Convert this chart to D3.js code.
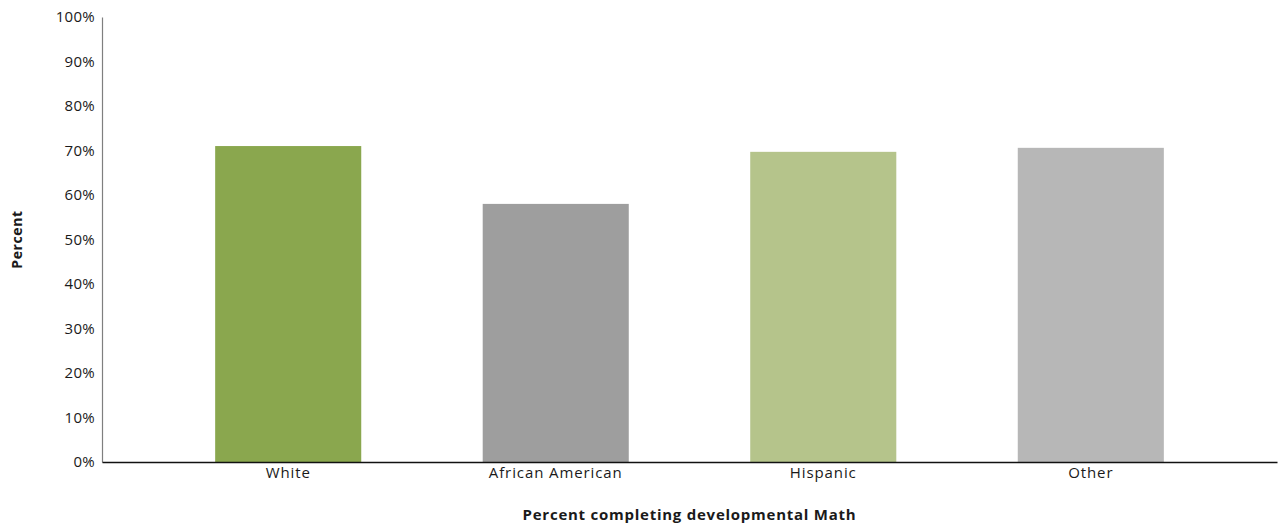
<!DOCTYPE html>
<html>
<head>
<meta charset="utf-8">
<script src="https://cdn.jsdelivr.net/npm/d3@7"></script>
<style>
  body { margin: 0; background: #fff; }
  text { font-family: "Open Sans", "Noto Sans", sans-serif; fill: #1a1a1a; }
</style>
</head>
<body>
<main></main>
<script>
const categories = ["White", "African American", "Hispanic", "Other"];
const values = [71.0, 58.0, 69.7, 70.6];
const colors = ["#8aa74e", "#9e9e9e", "#b5c48b", "#b7b7b7"];
const yTicks = [0, 10, 20, 30, 40, 50, 60, 70, 80, 90, 100];

const w = 1279;
const h = 526;
const plotLeft = 102;
const plotRight = 1277;
const plotTop = 17;
const plotBottom = 462;

const svg = d3
  .select("main")
  .append("svg")
  .attr("width", w)
  .attr("height", h);

const x = d3
  .scaleBand()
  .domain(categories)
  .range([plotLeft, plotRight])
  .paddingInner(0.454)
  .paddingOuter(0.423);

const y = d3.scaleLinear().domain([0, 100]).range([plotBottom, plotTop]);

svg
  .append("g")
  .selectAll("rect")
  .data(categories)
  .join("rect")
  .attr("x", (d) => x(d))
  .attr("y", (d, i) => y(values[i]))
  .attr("width", x.bandwidth())
  .attr("height", (d, i) => plotBottom - y(values[i]))
  .attr("fill", (d, i) => colors[i]);

// y axis
const yAxis = svg
  .append("g")
  .attr("transform", `translate(${plotLeft}, 0)`)
  .call(
    d3
      .axisLeft(y)
      .tickValues(yTicks)
      .tickSize(0)
      .tickPadding(7)
      .tickFormat((d) => d + "%")
  );
yAxis.select(".domain").attr("stroke", "#7f7f7f").attr("stroke-width", 1.2);
yAxis
  .selectAll("text")
  .attr("font-size", 15)
  .attr("letter-spacing", "0.3px")
  .attr("fill", "#1a1a1a");

// x axis
const xAxis = svg
  .append("g")
  .attr("transform", `translate(0, ${plotBottom})`)
  .call(d3.axisBottom(x).tickSize(0).tickPadding(5).tickSizeOuter(0));
xAxis.select(".domain").attr("stroke", "#111").attr("stroke-width", 1.5);
xAxis
  .selectAll("text")
  .attr("font-size", 15)
  .attr("letter-spacing", "0.9px")
  .attr("fill", "#1a1a1a");

svg
  .append("text")
  .attr("x", (plotLeft + plotRight) / 2)
  .attr("y", 520)
  .attr("text-anchor", "middle")
  .attr("font-size", 15)
  .attr("font-weight", "bold")
  .attr("letter-spacing", "0.75px")
  .text("Percent completing developmental Math");

svg
  .append("text")
  .attr("transform", `translate(22, ${(plotTop + plotBottom) / 2}) rotate(-90)`)
  .attr("text-anchor", "middle")
  .attr("font-size", 14)
  .attr("font-weight", "bold")
  .attr("letter-spacing", "0.6px")
  .text("Percent");
</script>
</body>
</html>
